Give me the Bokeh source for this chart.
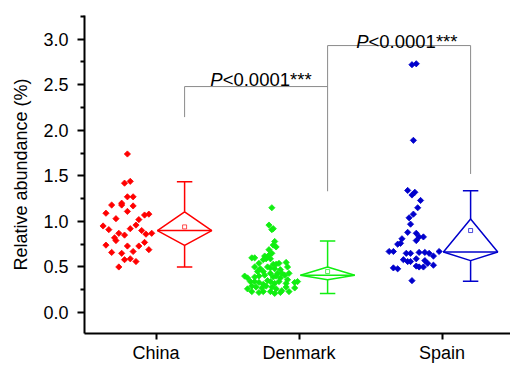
import math
from bokeh.plotting import figure
from bokeh.models import Range1d, FixedTicker, Label
from bokeh.embed import file_html
from bokeh.resources import INLINE

# ---------------- data ----------------
groups = ["China", "Denmark", "Spain"]
group_pos = [1, 2, 3]
colors = ["#ff0000", "#11ee11", "#0000cc"]

china_jit = [-0.20, -0.22, -0.18, -0.20, -0.16, -0.31, -0.24, -0.24, -0.16, -0.20,
             -0.35, -0.08, -0.05, -0.28, -0.12, -0.14, -0.37, -0.33, -0.18, -0.10,
             -0.26, -0.22, -0.07, -0.03, -0.29, -0.28, -0.08, -0.12, -0.35, -0.20,
             -0.31, -0.24, -0.05, -0.16, -0.22, -0.18, -0.14, -0.26]
china_y = [1.74, 1.42, 1.44, 1.27, 1.27, 1.18, 1.20, 1.18, 1.17, 1.11,
           1.09, 1.07, 1.08, 1.03, 1.02, 0.96, 0.95, 0.91, 0.92, 0.90,
           0.87, 0.85, 0.86, 0.87, 0.82, 0.79, 0.77, 0.73, 0.74, 0.73,
           0.66, 0.65, 0.69, 0.67, 0.58, 0.59, 0.56, 0.50]

denmark_jit = [-0.19,
               -0.21, -0.19, -0.18,
               -0.17, -0.18,
               -0.21, -0.16,
               -0.19, -0.24, -0.22, -0.21,
               -0.33, -0.31,
               -0.25, -0.23, -0.20,
               -0.28, -0.18, -0.16, -0.14, -0.09,
               -0.31, -0.27, -0.22, -0.20, -0.17, -0.13, -0.08,
               -0.29, -0.25, -0.24, -0.20, -0.15, -0.12, -0.10, -0.07,
               -0.38, -0.36, -0.31, -0.28, -0.18, -0.16, -0.13, -0.08,
               -0.34, -0.31, -0.28, -0.25, -0.22, -0.20, -0.17, -0.14, -0.09, -0.03, -0.01,
               -0.36, -0.33, -0.30, -0.26, -0.23, -0.19, -0.16, -0.12, -0.09, -0.03,
               -0.33, -0.28, -0.25, -0.20, -0.17, -0.13, -0.07]
denmark_y = [1.15,
             0.96, 0.91, 0.92,
             0.78, 0.74,
             0.69, 0.72,
             0.65, 0.62, 0.61, 0.63,
             0.60, 0.60,
             0.58, 0.59, 0.59,
             0.54, 0.53, 0.53, 0.54, 0.55,
             0.50, 0.48, 0.50, 0.49, 0.48, 0.47, 0.50,
             0.45, 0.45, 0.41, 0.43, 0.43, 0.43, 0.41, 0.43,
             0.40, 0.38, 0.39, 0.40, 0.39, 0.40, 0.38, 0.36,
             0.34, 0.34, 0.33, 0.31, 0.35, 0.34, 0.32, 0.34, 0.32, 0.33, 0.34,
             0.26, 0.29, 0.28, 0.27, 0.29, 0.28, 0.26, 0.24, 0.28, 0.27,
             0.23, 0.22, 0.23, 0.23, 0.21, 0.22, 0.23]

spain_jit = [-0.21, -0.18, -0.20,
             -0.24, -0.21, -0.19, -0.15, -0.17, -0.20, -0.23, -0.22, -0.24, -0.18,
             -0.28, -0.16, -0.13, -0.31, -0.29, -0.18,
             -0.37, -0.34, -0.25, -0.22, -0.16, -0.12, -0.09, -0.02, -0.06,
             -0.27, -0.24, -0.22, -0.18, -0.12, -0.10, -0.06,
             -0.34, -0.31, -0.18, -0.16, -0.13, -0.21]
spain_y = [2.72, 2.73, 1.89,
           1.34, 1.29, 1.32, 1.23, 1.15, 1.08, 1.04, 0.97, 0.88, 0.87,
           0.81, 0.83, 0.83, 0.75, 0.76, 0.79,
           0.67, 0.67, 0.65, 0.65, 0.66, 0.66, 0.65, 0.67, 0.62,
           0.58, 0.56, 0.56, 0.59, 0.57, 0.54, 0.52,
           0.49, 0.48, 0.51, 0.50, 0.50, 0.35]

whisker_low = [0.50, 0.21, 0.343]
q1 = [0.737, 0.36, 0.57]
median = [0.90, 0.41, 0.665]
q3 = [1.106, 0.50, 1.026]
whisker_high = [1.435, 0.785, 1.336]
means = [0.94, 0.45, 0.90]

p_text = "<0.0001***"
y_ticks = [0.0, 0.5, 1.0, 1.5, 2.0, 2.5, 3.0]
y_minor = [0.25, 0.75, 1.25, 1.75, 2.25, 2.75, 3.25]

# ---------------- figure ----------------
FONT = "Liberation Sans"
p = figure(width=510, height=365, output_backend="svg", toolbar_location=None,
           x_range=Range1d(0.5, 3.479), y_range=Range1d(-0.23, 3.26),
           min_border_left=84, min_border_right=0, min_border_top=15, min_border_bottom=0)
p.outline_line_color = None
p.xgrid.visible = False
p.ygrid.visible = False
p.background_fill_color = "white"
p.border_fill_color = "white"

# axes
p.yaxis.ticker = FixedTicker(ticks=y_ticks, minor_ticks=y_minor)
p.yaxis.major_label_overrides = {t: f"{t:.1f}" for t in y_ticks}
p.yaxis.axis_label = "Relative abundance (%)"
p.yaxis.axis_label_text_font = FONT
p.yaxis.axis_label_text_font_size = "18px"
p.yaxis.axis_label_text_font_style = "normal"
p.yaxis.axis_label_text_color = "black"
p.yaxis.axis_label_standoff = 9
p.yaxis.major_label_text_font = FONT
p.yaxis.major_label_text_font_size = "18px"
p.yaxis.major_label_text_color = "black"
p.yaxis.major_label_standoff = 9
p.yaxis.major_tick_out = 7
p.yaxis.major_tick_in = 0
p.yaxis.minor_tick_out = 4
p.yaxis.minor_tick_in = 0
for ax in (p.xaxis[0], p.yaxis[0]):
    ax.axis_line_width = 2
    ax.axis_line_color = "black"
    ax.major_tick_line_width = 2
    ax.major_tick_line_color = "black"
    ax.minor_tick_line_width = 2
    ax.minor_tick_line_color = "black"

p.xaxis.ticker = FixedTicker(ticks=group_pos, minor_ticks=[])
p.xaxis.major_label_overrides = {g: n for g, n in zip(group_pos, groups)}
p.xaxis.major_label_text_font = FONT
p.xaxis.major_label_text_font_size = "18px"
p.xaxis.major_label_text_color = "black"
p.xaxis.major_label_standoff = 3
p.xaxis.major_tick_out = 6
p.xaxis.major_tick_in = 0
p.xaxis.minor_tick_line_color = None

# scatter points
JIT_SETS = [(china_jit, china_y), (denmark_jit, denmark_y), (spain_jit, spain_y)]
for gp, (jit, ys), col in zip(group_pos, JIT_SETS, colors):
    xs = [gp + j for j in jit]
    p.scatter(xs, ys, marker="square", angle=math.pi / 4, size=4.4,
              fill_color=col, line_color=col, line_width=0.8)

# diamond boxes
BOX_OFF = 0.2
HALF_W = 0.19
CAP_W = 0.054
box_x = [g + BOX_OFF for g in group_pos]
p.patches(xs=[[c - HALF_W, c, c + HALF_W, c] for c in box_x],
          ys=[[m, t, m, b] for m, t, b in zip(median, q3, q1)],
          fill_color=None, line_color=colors, line_width=1.5)
p.segment(x0=[c - HALF_W for c in box_x], y0=median, x1=[c + HALF_W for c in box_x], y1=median,
          line_color=colors, line_width=1.5)
p.segment(x0=box_x, y0=q3, x1=box_x, y1=whisker_high, line_color=colors, line_width=1.5)
p.segment(x0=box_x, y0=q1, x1=box_x, y1=whisker_low, line_color=colors, line_width=1.5)
p.segment(x0=[c - CAP_W for c in box_x], y0=whisker_high, x1=[c + CAP_W for c in box_x],
          y1=whisker_high, line_color=colors, line_width=1.5)
p.segment(x0=[c - CAP_W for c in box_x], y0=whisker_low, x1=[c + CAP_W for c in box_x],
          y1=whisker_low, line_color=colors, line_width=1.5)
p.scatter(box_x, means, marker="square", size=4, fill_color=None, line_color=colors, line_width=0.7)

# significance brackets
BR_Y = [2.48, 2.93]
BR_GAP = [0.71, 0.546, 0.185]  # gap above each box's whisker top
GRAY = "#8a8a8a"
start_y = [wh + g for wh, g in zip(whisker_high, BR_GAP)]
# China - Denmark
p.line([box_x[0], box_x[0], box_x[1]], [start_y[0], BR_Y[0], BR_Y[0]], line_color=GRAY, line_width=1)
# Denmark vertical shared, then Denmark - Spain
p.line([box_x[1], box_x[1], box_x[2], box_x[2]], [start_y[1], BR_Y[1], BR_Y[1], start_y[2]],
       line_color=GRAY, line_width=1)

for x0, y0 in [(1.38, 2.555), (2.40, 2.975)]:
    p.add_layout(Label(x=x0, y=y0, text="P", text_font=FONT, text_font_size="18.5px",
                       text_font_style="italic", text_color="black", text_baseline="alphabetic"))
    p.add_layout(Label(x=x0, y=y0, x_offset=12.3, text=p_text, text_font=FONT, text_font_size="18.5px",
                       text_color="black", text_baseline="alphabetic"))

open("out.html", "w").write(file_html(p, INLINE))
